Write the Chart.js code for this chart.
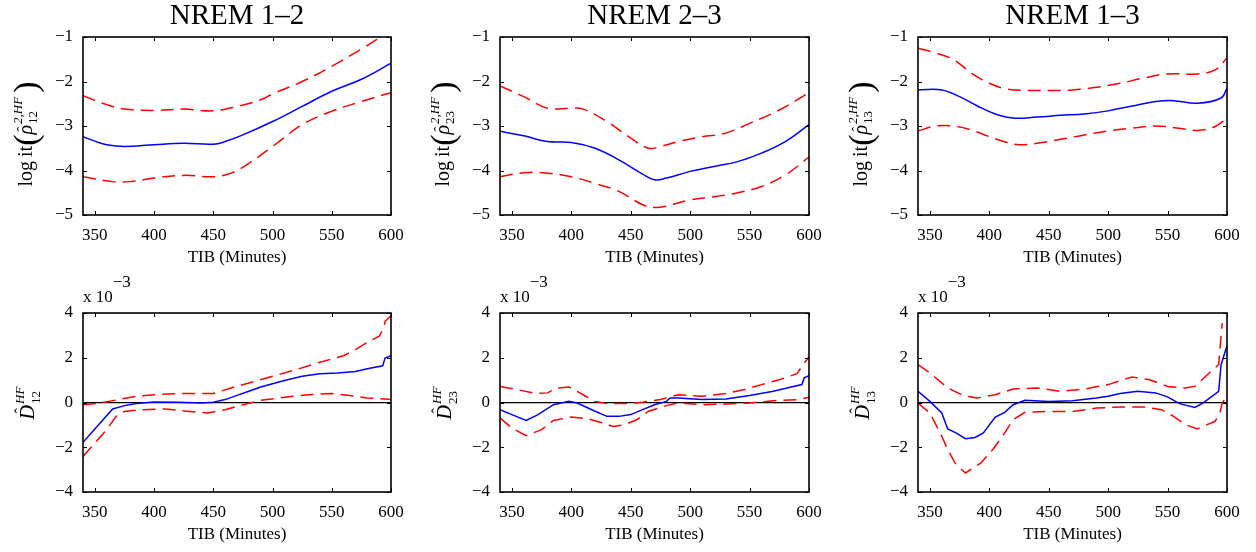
<!DOCTYPE html>
<html>
<head>
<meta charset="utf-8">
<script src="https://cdn.jsdelivr.net/npm/chart.js@4.4.0/dist/chart.umd.min.js"></script>
<style>
  body { margin: 0; background: #fff; width: 1256px; height: 552px; overflow: hidden; position: relative; }
  canvas { position: absolute; }
</style>
</head>
<body>
<canvas id="c0"></canvas>
<canvas id="c1"></canvas>
<canvas id="c2"></canvas>
<canvas id="c3"></canvas>
<canvas id="c4"></canvas>
<canvas id="c5"></canvas>
<script>
// tick labels
const xTicks = [350, 400, 450, 500, 550, 600];
const yTicksTop = [-5, -4, -3, -2, -1];
const yTicksBottom = [-4, -2, 0, 2, 4];
const titles = ['NREM 1\u20132', 'NREM 2\u20133', 'NREM 1\u20133'];
const pairs = ['12', '23', '13'];

// logit(rho^2) - NREM 1-2
const l12MidX = [340, 350, 360, 375, 400, 425, 450, 460, 475, 500, 525, 550, 575, 600];
const l12Mid = [-3.24, -3.34, -3.42, -3.46, -3.42, -3.39, -3.41, -3.35, -3.20, -2.90, -2.56, -2.22, -1.95, -1.59];
const l12UpX = [340, 360, 375, 400, 425, 450, 470, 490, 500, 525, 550, 575, 590, 600];
const l12Up = [-2.32, -2.52, -2.62, -2.65, -2.62, -2.66, -2.56, -2.41, -2.28, -2.00, -1.66, -1.27, -1.02, -0.85];
const l12LoX = [340, 365, 380, 400, 425, 450, 465, 480, 500, 525, 550, 575, 600];
const l12Lo = [-4.14, -4.25, -4.25, -4.17, -4.11, -4.14, -4.06, -3.84, -3.46, -2.97, -2.67, -2.45, -2.25];

// NREM 2-3
const l23MidX = [340, 360, 380, 400, 420, 440, 460, 470, 480, 500, 520, 540, 560, 580, 600];
const l23Mid = [-3.12, -3.22, -3.35, -3.37, -3.50, -3.76, -4.08, -4.21, -4.17, -4.02, -3.91, -3.80, -3.61, -3.35, -2.97];
const l23UpX = [340, 360, 380, 400, 410, 430, 450, 465, 475, 490, 510, 530, 550, 575, 600];
const l23Up = [-2.10, -2.34, -2.60, -2.60, -2.62, -2.90, -3.27, -3.50, -3.46, -3.35, -3.24, -3.16, -2.94, -2.64, -2.25];
const l23LoX = [340, 360, 380, 400, 420, 440, 460, 470, 480, 500, 520, 540, 560, 580, 600];
const l23Lo = [-4.14, -4.05, -4.06, -4.14, -4.29, -4.47, -4.77, -4.83, -4.80, -4.66, -4.59, -4.50, -4.36, -4.10, -3.70];

// NREM 1-3
const l13MidX = [340, 360, 375, 390, 405, 420, 440, 460, 480, 500, 520, 540, 555, 575, 595, 600];
const l13Mid = [-2.19, -2.19, -2.34, -2.55, -2.73, -2.82, -2.80, -2.76, -2.73, -2.66, -2.55, -2.45, -2.43, -2.49, -2.37, -2.15];
const l13UpX = [340, 355, 370, 385, 400, 415, 430, 450, 470, 490, 510, 530, 550, 575, 590, 600];
const l13Up = [-1.25, -1.36, -1.51, -1.81, -2.04, -2.17, -2.20, -2.20, -2.19, -2.13, -2.04, -1.92, -1.83, -1.83, -1.74, -1.47];
const l13LoX = [340, 355, 370, 385, 400, 415, 425, 440, 460, 480, 500, 520, 540, 560, 575, 590, 600];
const l13Lo = [-3.11, -3.00, -3.00, -3.09, -3.24, -3.37, -3.42, -3.39, -3.30, -3.20, -3.11, -3.05, -3.00, -3.05, -3.10, -3.01, -2.82];

// D^HF (x 10^-3) - NREM 1-2
const d12MidX = [340, 365, 375, 385, 400, 420, 440, 450, 460, 470, 480, 490, 500, 510, 525, 540, 555, 570, 580, 593, 595, 600];
const d12Mid = [-1.78, -0.29, -0.14, -0.05, 0.02, 0.01, -0.02, 0.01, 0.13, 0.32, 0.50, 0.69, 0.84, 0.98, 1.17, 1.29, 1.32, 1.39, 1.51, 1.64, 1.99, 2.09];
const d12UpX = [340, 355, 370, 385, 400, 420, 440, 450, 465, 480, 500, 520, 540, 560, 570, 580, 590, 594, 595, 600];
const d12Up = [-0.10, -0.02, 0.13, 0.28, 0.35, 0.40, 0.40, 0.40, 0.65, 0.87, 1.17, 1.47, 1.80, 2.09, 2.36, 2.69, 2.96, 3.33, 3.63, 3.88];
const d12LoX = [340, 350, 360, 368, 375, 390, 410, 430, 445, 460, 475, 490, 510, 530, 550, 565, 580, 595, 600];
const d12Lo = [-2.41, -1.81, -1.21, -0.62, -0.40, -0.32, -0.29, -0.40, -0.47, -0.32, -0.10, 0.10, 0.23, 0.35, 0.40, 0.31, 0.20, 0.16, 0.13];

// NREM 2-3
const d23MidX = [340, 350, 362, 372, 385, 398, 405, 420, 430, 440, 450, 460, 470, 480, 483, 490, 510, 530, 550, 570, 585, 594, 596, 600];
const d23Mid = [-0.32, -0.54, -0.80, -0.54, -0.10, 0.05, -0.02, -0.39, -0.62, -0.62, -0.54, -0.32, -0.10, 0.05, 0.20, 0.20, 0.13, 0.16, 0.31, 0.50, 0.69, 0.80, 1.10, 1.20];
const d23UpX = [340, 355, 370, 380, 388, 398, 405, 412, 420, 430, 445, 460, 475, 490, 510, 530, 545, 560, 575, 590, 594, 600];
const d23Up = [0.72, 0.57, 0.40, 0.43, 0.65, 0.69, 0.50, 0.28, 0.05, -0.05, -0.05, 0.01, 0.13, 0.35, 0.28, 0.40, 0.57, 0.80, 1.02, 1.29, 1.62, 2.04];
const d23LoX = [340, 350, 362, 375, 385, 400, 415, 425, 435, 445, 455, 465, 480, 490, 510, 530, 550, 570, 590, 600];
const d23Lo = [-0.69, -1.14, -1.48, -1.21, -0.80, -0.65, -0.74, -0.89, -1.07, -0.99, -0.77, -0.39, -0.14, -0.02, -0.10, -0.07, -0.02, 0.08, 0.13, 0.23];

// NREM 1-3
const d13MidX = [340, 350, 360, 365, 372, 380, 388, 395, 405, 413, 420, 430, 450, 470, 490, 500, 510, 525, 540, 550, 560, 573, 580, 593, 595, 600];
const d13Mid = [0.50, 0.05, -0.47, -1.18, -1.36, -1.62, -1.56, -1.36, -0.65, -0.44, -0.10, 0.10, 0.05, 0.08, 0.20, 0.28, 0.40, 0.50, 0.43, 0.25, -0.05, -0.22, -0.02, 0.50, 1.69, 2.54];
const d13UpX = [340, 350, 365, 378, 390, 405, 420, 440, 460, 480, 500, 520, 535, 550, 565, 573, 585, 593, 595, 596];
const d13Up = [1.69, 1.32, 0.65, 0.31, 0.20, 0.35, 0.60, 0.65, 0.50, 0.60, 0.80, 1.14, 1.02, 0.72, 0.65, 0.72, 1.32, 1.69, 2.96, 3.55];
const d13LoX = [340, 350, 360, 365, 372, 380, 393, 403, 413, 420, 430, 450, 470, 490, 510, 530, 545, 555, 565, 575, 590, 594, 596, 600];
const d13Lo = [-0.02, -0.47, -1.51, -2.10, -2.78, -3.15, -2.70, -2.10, -1.36, -0.77, -0.44, -0.40, -0.40, -0.25, -0.20, -0.20, -0.32, -0.62, -0.99, -1.18, -0.84, -0.47, -0.02, 0.28];

const SERIF = '"Liberation Serif", "Times New Roman", serif';

function pts(xs, ys) {
  return xs.map((x, i) => ({ x: x, y: ys[i] }));
}

function fmt(v) {
  return v < 0 ? '\u2212' + Math.abs(v) : String(v);
}

// y label  logit( rho^{2,HF}_{ij} )
function drawLogit(ctx, x, cy, sub) {
  ctx.save();
  ctx.translate(x, cy);
  ctx.rotate(-Math.PI / 2);
  ctx.fillStyle = '#000';
  ctx.textBaseline = 'alphabetic';
  ctx.textAlign = 'left';
  const fMain = '20px ' + SERIF, fIt = 'italic 20px ' + SERIF;
  const fSm = '13px ' + SERIF, fSmIt = 'italic 13px ' + SERIF;
  const fPar = '34px ' + SERIF;
  ctx.font = fMain; const w1 = ctx.measureText('log\u2009it').width;
  ctx.font = fPar; const wp = ctx.measureText('(').width;
  ctx.font = fIt; const wr = ctx.measureText('\u03c1').width;
  ctx.font = fSmIt; const wsup = ctx.measureText('2,HF').width;
  ctx.font = fSm; const wsub = ctx.measureText(sub).width;
  const ws = Math.max(wsup, wsub);
  const total = w1 + 2 * wp + wr + ws + 5;
  let px = -total / 2;
  ctx.font = fMain; ctx.fillText('log\u2009it', px, 0); px += w1;
  ctx.font = fPar; ctx.fillText('(', px, 5); px += wp;
  ctx.font = fIt; ctx.fillText('\u03c1', px, 0);
  ctx.font = '15px ' + SERIF; ctx.fillText('\u02c6', px + 3, -5);
  px += wr + 1;
  ctx.font = fSmIt; ctx.fillText('2,HF', px, -10);
  ctx.font = fSm; ctx.fillText(sub, px, 5);
  px += ws + 4;
  ctx.font = fPar; ctx.fillText(')', px, 5);
  ctx.restore();
}

// y label  D^{HF}_{ij}
function drawD(ctx, x, cy, sub) {
  ctx.save();
  ctx.translate(x, cy);
  ctx.rotate(-Math.PI / 2);
  ctx.fillStyle = '#000';
  ctx.textBaseline = 'alphabetic';
  ctx.textAlign = 'left';
  const fIt = 'italic 20px ' + SERIF;
  const fSm = '13px ' + SERIF, fSmIt = 'italic 13px ' + SERIF;
  ctx.font = fIt; const wd = ctx.measureText('D').width;
  ctx.font = fSmIt; const wsup = ctx.measureText('HF').width;
  ctx.font = fSm; const wsub = ctx.measureText(sub).width;
  const total = wd + Math.max(wsup, wsub) + 1;
  let px = -total / 2;
  ctx.font = fIt; ctx.fillText('D', px, 0);
  ctx.font = '16px ' + SERIF; ctx.fillText('\u02c6', px + 6, -8);
  px += wd + 1;
  ctx.font = fSmIt; ctx.fillText('HF', px, -10);
  ctx.font = fSm; ctx.fillText(sub, px, 6);
  ctx.restore();
}

const decor = {
  id: 'decor',
  afterDraw(chart) {
    const o = chart.options.plugins.decor;
    const ctx = chart.ctx;
    const a = chart.chartArea;
    const xs = chart.scales.x, ys = chart.scales.y;
    ctx.save();
    // inward ticks on all sides
    ctx.strokeStyle = '#000';
    ctx.lineWidth = 1;
    ctx.beginPath();
    xs.ticks.forEach(t => {
      const px = Math.round(xs.getPixelForValue(t.value)) + 0.5;
      ctx.moveTo(px, a.bottom); ctx.lineTo(px, a.bottom - 4);
      ctx.moveTo(px, a.top); ctx.lineTo(px, a.top + 4);
    });
    ys.ticks.forEach(t => {
      const py = Math.round(ys.getPixelForValue(t.value)) + 0.5;
      ctx.moveTo(a.left, py); ctx.lineTo(a.left + 4, py);
      ctx.moveTo(a.right, py); ctx.lineTo(a.right - 4, py);
    });
    ctx.stroke();
    // box
    ctx.lineWidth = 1.6;
    ctx.strokeRect(a.left, a.top, a.right - a.left, a.bottom - a.top);
    ctx.fillStyle = '#000';
    if (o.title) {
      ctx.font = '29px ' + SERIF;
      ctx.textAlign = 'center';
      ctx.textBaseline = 'alphabetic';
      ctx.fillText(o.title, (a.left + a.right) / 2, 24);
    }
    if (o.kind === 'logit') {
      drawLogit(ctx, 32, 134, o.sub);
    } else {
      drawD(ctx, 34, 133, o.sub);
      ctx.font = '17px ' + SERIF;
      ctx.textAlign = 'left';
      ctx.textBaseline = 'alphabetic';
      const w = ctx.measureText('x 10').width;
      ctx.fillText('x 10', a.left, 32);
      ctx.fillText('\u22123', a.left + w, 17);
    }
    ctx.restore();
  }
};

const plotLeft = [83, 500, 918];
const plotW = [308, 309, 309];

const panels = [
  { mid: pts(l12MidX, l12Mid), up: pts(l12UpX, l12Up), lo: pts(l12LoX, l12Lo) },
  { mid: pts(l23MidX, l23Mid), up: pts(l23UpX, l23Up), lo: pts(l23LoX, l23Lo) },
  { mid: pts(l13MidX, l13Mid), up: pts(l13UpX, l13Up), lo: pts(l13LoX, l13Lo) },
  { mid: pts(d12MidX, d12Mid), up: pts(d12UpX, d12Up), lo: pts(d12LoX, d12Lo) },
  { mid: pts(d23MidX, d23Mid), up: pts(d23UpX, d23Up), lo: pts(d23LoX, d23Lo) },
  { mid: pts(d13MidX, d13Mid), up: pts(d13UpX, d13Up), lo: pts(d13LoX, d13Lo) }
];

panels.forEach(function(p, i) {
  const col = i % 3;
  const top = i < 3;
  const padTop = top ? 37 : 43;
  const plotH = top ? 178 : 179;
  const canvas = document.getElementById('c' + i);
  canvas.width = 83 + plotW[col] + 22;
  canvas.height = padTop + plotH + 54;
  canvas.style.left = (plotLeft[col] - 83) + 'px';
  canvas.style.top = (top ? 0 : 270) + 'px';

  const smooth = top ? 0.4 : 0;
  const red = {
    borderColor: '#ff0000', borderWidth: 1.5, borderDash: [13, 7],
    pointRadius: 0, tension: smooth, fill: false
  };
  new Chart(canvas, {
    type: 'line',
    data: {
      datasets: [
        Object.assign({ data: p.up }, red),
        Object.assign({ data: p.lo }, red),
        { data: p.mid, borderColor: '#0000ff', borderWidth: 1.5, pointRadius: 0, tension: smooth, fill: false }
      ]
    },
    options: {
      responsive: false,
      animation: false,
      devicePixelRatio: 1,
      layout: { padding: { left: 0, right: 22, top: padTop, bottom: 0 } },
      plugins: {
        legend: { display: false },
        tooltip: { enabled: false },
        decor: { title: top ? titles[col] : null, kind: top ? 'logit' : 'D', sub: pairs[col] }
      },
      scales: {
        x: {
          type: 'linear', min: 340, max: 600,
          afterBuildTicks: s => { s.ticks = xTicks.map(v => ({ value: v })); },
          afterFit: s => { s.height = 54; },
          grid: { display: false },
          border: { display: false },
          ticks: { color: '#000', padding: 2, maxRotation: 0, font: { family: SERIF, size: 17 }, callback: fmt },
          title: { display: true, text: 'TIB (Minutes)', color: '#000', padding: { top: 0, bottom: 1 }, font: { family: SERIF, size: 17 } }
        },
        y: {
          type: 'linear',
          min: top ? -5 : -4, max: top ? -1 : 4,
          afterBuildTicks: s => { s.ticks = (top ? yTicksTop : yTicksBottom).map(v => ({ value: v })); },
          afterFit: s => { s.width = 83; },
          grid: {
            display: !top, drawTicks: false, lineWidth: 1.2,
            color: c => (c.tick && c.tick.value === 0 ? '#000' : 'rgba(0,0,0,0)')
          },
          border: { display: false },
          ticks: { color: '#000', padding: 10, font: { family: SERIF, size: 17 }, callback: fmt }
        }
      }
    },
    plugins: [decor]
  });
});
</script>
</body>
</html>
